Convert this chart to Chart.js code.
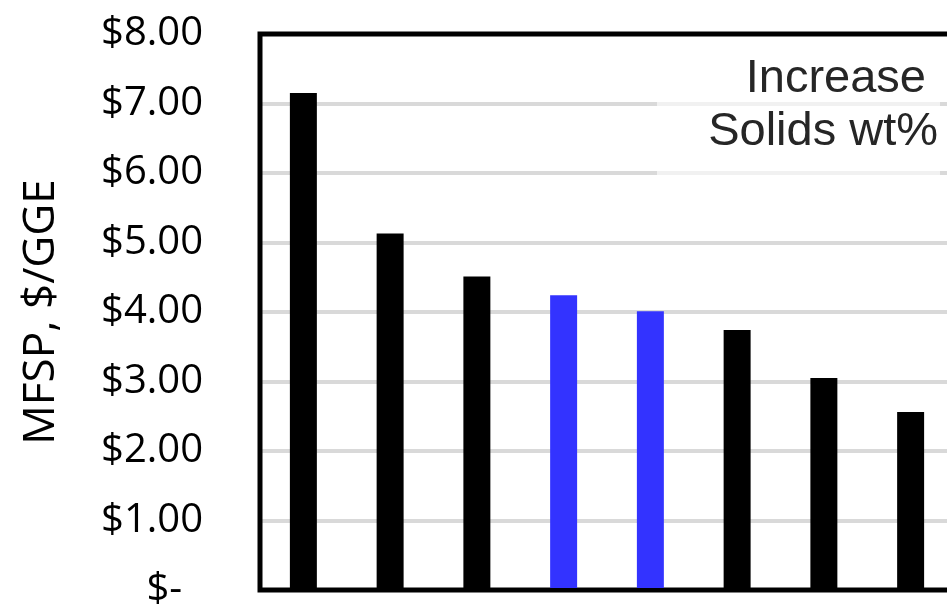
<!DOCTYPE html>
<html>
<head>
<meta charset="utf-8">
<script src="https://cdn.jsdelivr.net/npm/chart.js@4/dist/chart.umd.min.js"></script>
<style>
  html, body { margin: 0; padding: 0; background: #fff; overflow: hidden; }
  #wrap { position: relative; width: 962px; height: 614px; }
</style>
</head>
<body>
<div id="wrap"><canvas id="c"></canvas></div>
<script>
// Scenarios, minimum fuel selling price ($/GGE)
const scenarios = ['1', '2', '3', '4', '5', '6', '7', '8'];
const mfsp = [7.15, 5.13, 4.51, 4.24, 4.01, 3.74, 3.05, 2.56];
const barColors = ['#000000', '#000000', '#000000', '#3333FF', '#3333FF', '#000000', '#000000', '#000000'];
const yTickLabels = ['$-  ', '$1.00', '$2.00', '$3.00', '$4.00', '$5.00', '$6.00', '$7.00', '$8.00'];
const noteLines = ['Increase', 'Solids wt%'];

// Heavy black frame around the plot area
const framePlugin = {
  id: 'frame',
  beforeDatasetsDraw(chart) {
    const { ctx, chartArea: a } = chart;
    ctx.save();
    ctx.strokeStyle = '#000';
    ctx.lineWidth = 5;
    ctx.strokeRect(a.left, a.top, a.right - a.left, a.bottom - a.top);
    ctx.restore();
  }
};

// Translucent note box with the two-line caption
const notePlugin = {
  id: 'note',
  afterDatasetsDraw(chart) {
    const { ctx } = chart;
    ctx.save();
    ctx.fillStyle = 'rgba(255,255,255,0.62)';
    ctx.fillRect(657, 45, 283, 137);
    ctx.fillStyle = '#262626';
    ctx.font = '47px "Liberation Sans", Arial, sans-serif';
    ctx.textAlign = 'right';
    ctx.textBaseline = 'alphabetic';
    ctx.fillText(noteLines[0], 926, 92);
    ctx.fillText(noteLines[1], 938, 145);
    ctx.restore();
  }
};

new Chart(document.getElementById('c'), {
  type: 'bar',
  data: {
    labels: scenarios,
    datasets: [{
      data: mfsp,
      backgroundColor: barColors,
      borderWidth: 0,
      barPercentage: 0.311,
      categoryPercentage: 1.0
    }]
  },
  options: {
    responsive: true,
    maintainAspectRatio: false,
    animation: false,
    devicePixelRatio: 1,
    layout: { padding: { top: 34, bottom: 24, left: 0, right: 8 } },
    plugins: { legend: { display: false }, tooltip: { enabled: false } },
    scales: {
      x: { display: false },
      y: {
        min: 0,
        max: 8,
        ticks: {
          stepSize: 1,
          color: '#000',
          padding: 57,
          font: { family: '"Open Sans", sans-serif', size: 40 },
          callback: (v) => yTickLabels[v]
        },
        grid: { color: '#d9d9d9', lineWidth: 4, drawTicks: false },
        border: { display: false },
        title: {
          display: true,
          text: 'MFSP, $/GGE',
          color: '#000',
          font: { family: '"Open Sans", sans-serif', size: 44 },
          padding: { top: 15, bottom: 0 }
        },
        afterFit(scale) {
          scale.width = 260;
          // tick labels may overhang the layout padding at both ends
          scale.paddingTop = 0;
          scale.paddingBottom = 0;
        }
      }
    }
  },
  plugins: [framePlugin, notePlugin]
});
</script>
</body>
</html>
